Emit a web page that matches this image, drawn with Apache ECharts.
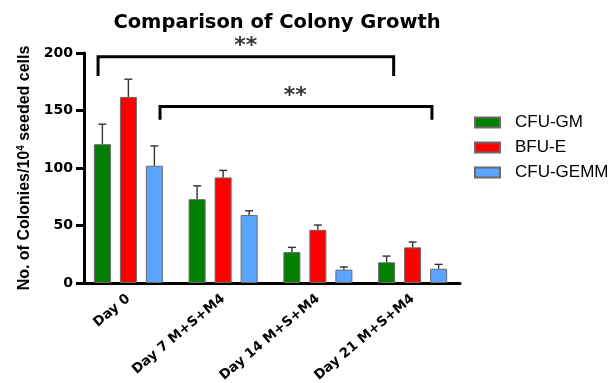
<!DOCTYPE html>
<html>
<head>
<meta charset="utf-8">
<script src="https://cdn.jsdelivr.net/npm/echarts@6/dist/echarts.min.js"></script>
<style>
html,body{margin:0;padding:0;background:#fff;}
#chart{width:613px;height:383px;}
</style>
</head>
<body>
<div id="chart"></div>
<script>
var categories = ['Day 0', 'Day 7 M+S+M4', 'Day 14 M+S+M4', 'Day 21 M+S+M4'];
var seriesNames = ['CFU-GM', 'BFU-E', 'CFU-GEMM'];
var gmMean = [120.7, 72.9, 26.9, 18.0];
var gmSd = [17.4, 11.6, 4.1, 5.4];
var beMean = [161.8, 91.8, 46.3, 31.0];
var beSd = [15.4, 6.1, 4.1, 4.6];
var gemmMean = [101.9, 59.1, 11.6, 12.4];
var gemmSd = [17.3, 3.7, 2.3, 3.8];
var yTicks = [0, 50, 100, 150, 200];
// significance brackets: [xStart, xEnd, yLow, yHigh] in category-index units
var bracket1 = [-0.32, 2.80, 180, 196.8];
var bracket2 = [0.334, 3.204, 142, 153.5];
var stars = [[1.24, 209.5, '**'], [1.76, 166.2, '**']];

var colors = ['#007f00', '#ff0000', '#5aa5ff'];
var means = [gmMean, beMean, gemmMean];
var sds = [gmSd, beSd, gemmSd];
var offsets = [-26, 0, 26];

function bracketData(b) {
  return [[b[0], b[2]], [b[0], b[3]], [b[1], b[3]], [b[1], b[2]]];
}

var series = [];
seriesNames.forEach(function (name, i) {
  series.push({
    name: name,
    type: 'bar',
    data: means[i],
    barWidth: 17,
    barGap: '53%',
    itemStyle: { color: colors[i], borderColor: '#6a6a6a', borderWidth: 1 },
    emphasis: { disabled: true },
    animation: false
  });
});
seriesNames.forEach(function (name, i) {
  var d = means[i].map(function (m, k) { return [k, m + sds[i][k], m]; });
  series.push({
    type: 'custom',
    name: name + ' err',
    data: d,
    z: 5,
    silent: true,
    animation: false,
    renderItem: function (params, api) {
      var c = api.value(0);
      var top = api.coord([c, api.value(1)]);
      var base = api.coord([c, api.value(2)]);
      var x = top[0] + offsets[i];
      var st = { stroke: '#333333', lineWidth: 1.4, fill: null };
      return {
        type: 'group',
        children: [
          { type: 'line', shape: { x1: x, y1: base[1], x2: x, y2: top[1] }, style: st },
          { type: 'line', shape: { x1: x - 4, y1: top[1], x2: x + 4, y2: top[1] }, style: st }
        ]
      };
    }
  });
});
[bracket1, bracket2].forEach(function (b) {
  series.push({
    type: 'line',
    xAxisIndex: 1,
    data: bracketData(b),
    symbol: 'none',
    showSymbol: false,
    clip: false,
    silent: true,
    animation: false,
    lineStyle: { color: '#000', width: 3, join: 'miter', cap: 'butt' }
  });
});
series.push({
  type: 'scatter',
  xAxisIndex: 1,
  data: stars.map(function (s) { return [s[0], s[1]]; }),
  symbolSize: 0,
  clip: false,
  silent: true,
  animation: false,
  label: {
    show: true,
    position: 'inside',
    formatter: function (p) { return stars[p.dataIndex][2]; },
    color: '#000',
    fontFamily: 'DejaVu Sans',
    fontWeight: 'bold',
    fontSize: 22,
    offset: [0, 4]
  }
});

var chart = echarts.init(document.getElementById('chart'));
chart.setOption({
  animation: false,
  backgroundColor: '#fff',
  title: {
    text: 'Comparison of Colony Growth',
    left: 272,
    textAlign: 'center',
    top: 8,
    textStyle: { fontFamily: 'DejaVu Sans', fontWeight: 'bold', fontSize: 19.5, color: '#000' }
  },
  legend: {
    data: seriesNames,
    orient: 'vertical',
    left: 469,
    top: 109,
    icon: 'rect',
    itemWidth: 25,
    itemHeight: 10,
    itemGap: 8,
    selectedMode: false,
    textStyle: { fontFamily: 'Liberation Sans', fontSize: 17, lineHeight: 17, color: '#000', padding: [0, 0, 0, 10] }
  },
  grid: { left: 81, top: 53, width: 379, height: 230, containLabel: false, outerBoundsMode: 'none' },
  xAxis: [{
    type: 'category',
    data: categories,
    axisLine: { onZero: false, lineStyle: { color: '#000', width: 3 } },
    axisTick: { alignWithLabel: true, length: 7, lineStyle: { color: '#000', width: 3 } },
    axisLabel: { rotate: 40, margin: 14, interval: 0, color: '#000', fontFamily: 'DejaVu Sans', fontWeight: 'bold', fontSize: 13.5 }
  }, {
    type: 'value',
    min: -0.5,
    max: 3.5,
    show: false
  }],
  yAxis: {
    type: 'value',
    min: 0,
    max: 200,
    interval: 50,
    offset: -3,
    name: 'No. of Colonies/10{sup|4} seeded cells',
    nameLocation: 'middle',
    nameGap: 50,
    nameTextStyle: {
      fontFamily: 'Liberation Sans', fontWeight: 'bold', fontSize: 16, color: '#000',
      rich: { sup: { fontFamily: 'Liberation Sans', fontWeight: 'bold', fontSize: 10, verticalAlign: 'top', padding: [0, 0, 8, 0] } }
    },
    splitLine: { show: false },
    axisLine: { show: true, onZero: false, lineStyle: { color: '#000', width: 3 } },
    axisTick: { show: true, length: 8, lineStyle: { color: '#000', width: 3 } },
    axisLabel: {
      margin: 11, color: '#000', fontFamily: 'DejaVu Sans', fontWeight: 'bold', fontSize: 14,
      formatter: function (v) { return yTicks.indexOf(v) >= 0 ? String(v) : ''; }
    }
  },
  series: series
});
</script>
</body>
</html>
